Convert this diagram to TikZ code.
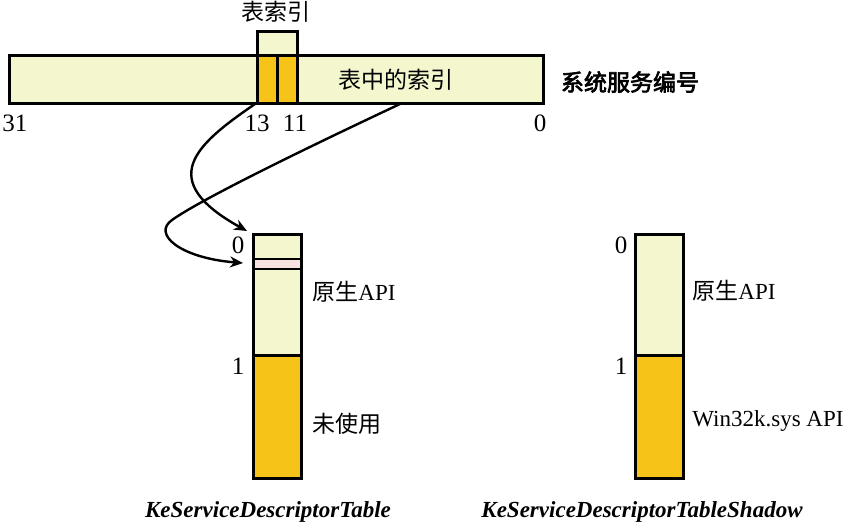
\documentclass[tikz,border=0pt]{standalone}
\usepackage{fontspec}
\setmainfont{Liberation Serif}
\newfontfamily\cjk{Noto Sans CJK SC}
\newfontfamily\cjkbold[FakeBold=3]{Noto Sans CJK SC}
\usetikzlibrary{arrows.meta}
\definecolor{paleyel}{HTML}{F4F6CE}
\definecolor{goldcell}{HTML}{F6C419}
\definecolor{pinkband}{HTML}{F8E1E1}

\begin{document}
\begin{tikzpicture}[x=0.5pt, y=-0.5pt, font=\fontsize{11.5}{13}\selectfont, line join=miter,
		pale/.style = {draw, line width=1.5pt, fill=paleyel},
		used/.style = {draw, line width=1.5pt, fill=goldcell},
		band/.style = {draw, line width=1pt, fill=pinkband},
		lbl/.style = {inner sep=0pt},
		num/.style = {inner sep=0pt, font=\fontsize{12.5}{14}\selectfont},
		link/.style = {line width=1.2pt, -{Stealth[length=6.5pt, width=5.5pt]}}]
	\useasboundingbox (0,0) rectangle (847,527);
	% system service number
	\coordinate (b31) at (9,55);
	\coordinate (b0) at (543,103);
	\draw[pale] (b31) rectangle (b0);
	\draw[pale] (257,31) rectangle (297,55);
	\draw[used] (257,55) rectangle (277,103);
	\draw[used] (277,55) rectangle (297,103);
	\node[lbl] (tidx) at (276,12) {\cjk 表索引};
	\node[lbl] (inidx) at (396,80) {\cjk 表中的索引};
	\node[lbl] (ssn) at (630,82) {\cjkbold 系统服务编号};
	\node[num, anchor=west] (n31) at (2,123) {31};
	\node[num] (n13) at (257,123) {13};
	\node[num] (n11) at (295,123) {11};
	\node[num] (n0) at (540,123) {0};
	% KeServiceDescriptorTable
	\draw[pale] (253,234) rectangle (301,355);
	\draw[band] (253,259) rectangle (301,269);
	\draw[used] (253,355) rectangle (301,478);
	\draw[line width=1.5pt] (253,234) rectangle (301,478);
	\node[num] (t0) at (238,245) {0};
	\node[num] (t1) at (238,366) {1};
	\node[lbl, anchor=west] (tnat) at (312,292) {{\cjk 原生}API};
	\node[lbl, anchor=west] (tfree) at (312,424) {\cjk 未使用};
	\node[lbl] (tcap) at (268,512) {\bfseries\itshape KeServiceDescriptorTable};
	% KeServiceDescriptorTableShadow
	\draw[pale] (635,234) rectangle (683,355);
	\draw[used] (635,355) rectangle (683,478);
	\node[num] (s0) at (621,245) {0};
	\node[num] (s1) at (621,366) {1};
	\node[lbl, anchor=west] (snat) at (692,291) {{\cjk 原生}API};
	\node[lbl, anchor=west] (swin) at (692,421) {Win32k.sys API};
	\node[lbl] (scap) at (642,512) {\bfseries\itshape KeServiceDescriptorTableShadow};
	% arrows
	\coordinate (srcA) at (255,104);
	\coordinate (dstA) at (247,231);
	\coordinate (srcB) at (400,104);
	\coordinate (bendB) at (172,220);
	\coordinate (dstB) at (243,263);
	\draw[link] (srcA) .. controls (195,145) and (155,180) .. (dstA);
	\draw[link] (srcB) .. controls (300,151) and (200,200) .. (bendB) .. controls (152,234) and (180,258) .. (dstB);
\end{tikzpicture}
\end{document}
